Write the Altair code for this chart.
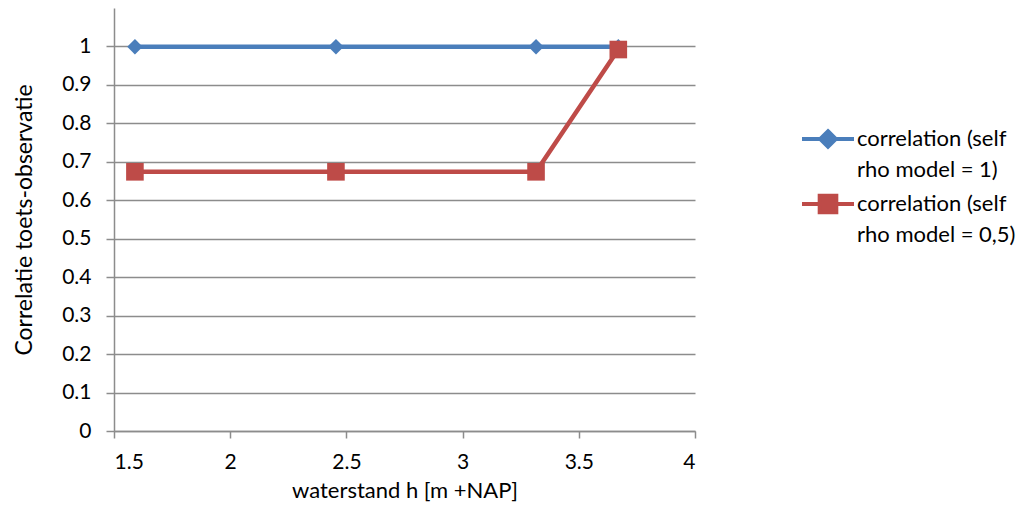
import altair as alt
import pandas as pd

x_blue = [1.59, 2.455, 3.316, 3.67]
y_blue = [0.999, 0.999, 0.999, 0.999]
x_red = [1.59, 2.455, 3.316, 3.67]
y_red = [0.674, 0.674, 0.674, 0.992]
series_names = ["correlation (self|rho model = 1)", "correlation (self|rho model = 0,5)"]
colors = ["#4A7EBB", "#BE4B48"]

rows = []
for xv, yv in zip(x_blue, y_blue):
    rows.append({"x": xv, "y": yv, "s": series_names[0]})
for xv, yv in zip(x_red, y_red):
    rows.append({"x": xv, "y": yv, "s": series_names[1]})
df = pd.DataFrame(rows)

FONT = "Lato"
GRID = "#8C8C8C"

diamond_sym = "M-1,0H1M0,-0.3L0.3,0L0,0.3L-0.3,0Z"
square_sym = "M-1,0H1M-0.32,-0.32H0.32V0.32H-0.32Z"

x_enc = alt.X("x:Q", scale=alt.Scale(domain=[1.5, 4], nice=False),
              axis=alt.Axis(title="waterstand h [m +NAP]", values=[1.5, 2, 2.5, 3, 3.5, 4],
                            format="~g", grid=False, tickSize=7, labelPadding=13, titlePadding=8,
                            labelFontSize=21, titleFontSize=22))
y_enc = alt.Y("y:Q", scale=alt.Scale(domain=[0, 1.1], nice=False),
              axis=alt.Axis(title="Correlatie toets-observatie",
                            values=[0, 0.1, 0.2, 0.3, 0.4, 0.5, 0.6, 0.7, 0.8, 0.9, 1],
                            format="~g", grid=True, tickSize=8, labelPadding=15, titlePadding=25,
                            labelFontSize=21, titleFontSize=23))

legend = alt.Legend(
    title=None, orient="none", legendX=686, legendY=108,
    labelExpr="split(datum.label, '|')",
    labelFont=FONT, labelFontSize=22, labelColor="#000000", labelLimit=400,
    labelBaseline="middle", labelOffset=1,
    symbolSize=2700, symbolStrokeWidth=4, symbolOpacity=1, clipHeight=46, rowPadding=0,
    padding=0,
)

lines = alt.Chart(df).mark_line(strokeWidth=4.5).encode(
    x=x_enc, y=y_enc,
    color=alt.Color("s:N", scale=alt.Scale(domain=series_names, range=colors), legend=None),
)

points = alt.Chart(df).mark_point(filled=True, opacity=1).encode(
    x="x:Q", y="y:Q",
    color=alt.Color("s:N", scale=alt.Scale(domain=series_names, range=colors), legend=None),
    shape=alt.Shape("s:N", scale=alt.Scale(domain=series_names, range=["diamond", "square"]), legend=None),
    size=alt.Size("s:N", scale=alt.Scale(domain=series_names, range=[240, 310]), legend=None),
)

legend_layer = alt.Chart(df).transform_filter("false").mark_point(filled=True, opacity=1).encode(
    x="x:Q", y="y:Q",
    color=alt.Color("s:N", scale=alt.Scale(domain=series_names, range=colors), legend=legend),
    stroke=alt.Stroke("s:N", scale=alt.Scale(domain=series_names, range=colors), legend=legend),
    shape=alt.Shape("s:N", scale=alt.Scale(domain=series_names, range=[diamond_sym, square_sym]), legend=legend),
)

chart = alt.layer(lines, points, legend_layer).resolve_scale(
    color="independent", shape="independent", size="independent", stroke="independent"
).properties(
    width=581, height=423,
    autosize=alt.AutoSizeParams(type="none"),
    padding={"left": 106, "top": 0, "right": 323, "bottom": 73},
).configure(
    background="white", style={"guide-label": {"lineHeight": 31}}
).configure_view(stroke=None).configure_axis(
    labelFont=FONT, titleFont=FONT,
    labelColor="#000000", titleColor="#000000", titleFontWeight="normal",
    domainColor=GRID, tickColor=GRID, gridColor=GRID, domainWidth=1.5, tickWidth=1.5, gridWidth=1.5,
)

chart.save("out.html", embed_options={"renderer": "svg", "actions": False})
